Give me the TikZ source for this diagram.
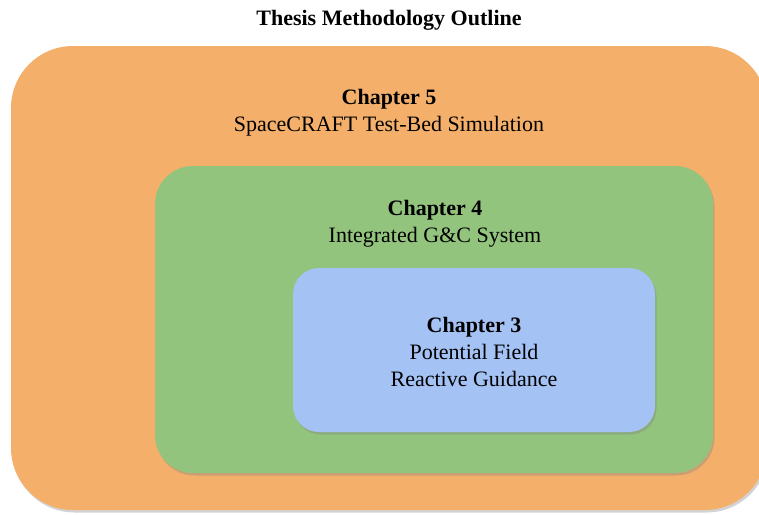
\documentclass[tikz,border=0pt]{standalone}
\usepackage{fontspec}
\setmainfont{Liberation Serif}
\usetikzlibrary{shadows}
\definecolor{chfive}{HTML}{F4B06B}
\definecolor{chfour}{HTML}{93C47D}
\definecolor{chthree}{HTML}{A4C2F4}
\begin{document}
\begin{tikzpicture}[x=1pt,y=-1pt,
layer/.style={rectangle,drop shadow={shadow xshift=1.5pt,shadow yshift=-2.5pt,opacity=0.35}},
chap/.style={align=center,font=\fontsize{22}{27}\selectfont,inner sep=0pt}]

\useasboundingbox (0,0) rectangle (759,514);

\begin{scope}
\clip (0,0) rectangle (759,514);
\fill[chfive,layer,rounded corners=62pt] (11,46) rectangle (767,510);
\end{scope}
\fill[chfour,layer,rounded corners=38pt] (155,166) rectangle (713,473);
\fill[chthree,layer,rounded corners=26pt] (293,268) rectangle (655,432);

\draw (389,20) node[chap,font=\bfseries\fontsize{22}{27}\selectfont] (T) {Thesis Methodology Outline};
\draw (389,113) node[chap] (C5) {\textbf{Chapter 5}\\SpaceCRAFT Test-Bed Simulation};
\draw (435,224) node[chap] (C4) {\textbf{Chapter 4}\\Integrated G\&C System};
\draw (474,352) node[chap] (C3) {\textbf{Chapter 3}\\Potential Field\\Reactive Guidance};

\end{tikzpicture}
\end{document}
